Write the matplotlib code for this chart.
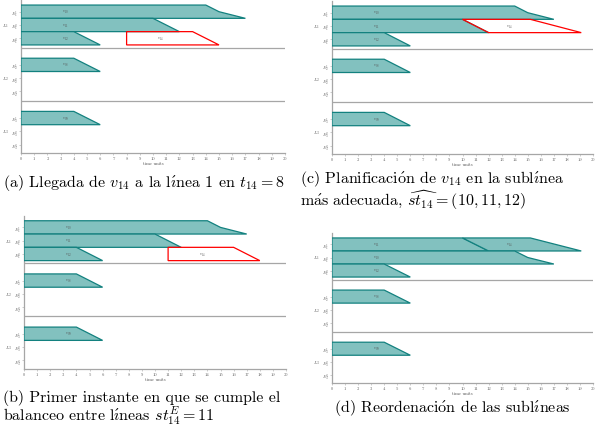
import matplotlib.pyplot as plt
import numpy as np

plt.rcParams['font.family'] = ['cmr10', 'DejaVu Serif']
plt.rcParams['mathtext.fontset'] = 'cm'
plt.rcParams['axes.formatter.use_mathtext'] = True

W, H = 597, 431

xticks = list(range(0, 21))
line_names = ['$L_1$', '$L_2$', '$L_3$']
subline_names = [['$E_1^1$', '$E_1^2$', '$E_1^3$'],
                 ['$E_2^1$', '$E_2^2$', '$E_2^3$'],
                 ['$E_3^1$', '$E_3^2$', '$E_3^3$']]

# profiles: x of the edge at fractions of the row height (0 = top, 1 = bottom)
long_fr = [0, 0.5, 1]
short_fr = [0, 1]
v10_end = [14, 15, 17]
v11_end = [10, 12]
v12_end = [4, 6]
v08_end = [4, 6]
v09_end = [4, 6]
zero = [0, 0]
v14_start_a, v14_end_a = [8, 8], [13, 15]
v14_start_b, v14_end_b = [11, 11], [16, 18]
v14_start_c, v14_end_c = [10, 12], [15.2, 19.1]

# (line, subline, start, end, fracs, label, new vehicle?)
bars_a = [(0, 0, zero, v10_end, long_fr, '$v_{10}$', False),
          (0, 1, zero, v11_end, short_fr, '$v_{11}$', False),
          (0, 2, zero, v12_end, short_fr, '$v_{12}$', False),
          (0, 2, v14_start_a, v14_end_a, short_fr, '$v_{14}$', True),
          (1, 0, zero, v08_end, short_fr, '$v_{08}$', False),
          (2, 0, zero, v09_end, short_fr, '$v_{09}$', False)]
bars_b = [(0, 0, zero, v10_end, long_fr, '$v_{10}$', False),
          (0, 1, zero, v11_end, short_fr, '$v_{11}$', False),
          (0, 2, zero, v12_end, short_fr, '$v_{12}$', False),
          (0, 2, v14_start_b, v14_end_b, short_fr, '$v_{14}$', True),
          (1, 0, zero, v08_end, short_fr, '$v_{08}$', False),
          (2, 0, zero, v09_end, short_fr, '$v_{09}$', False)]
bars_c = [(0, 0, zero, v10_end, long_fr, '$v_{10}$', False),
          (0, 1, zero, v11_end, short_fr, '$v_{11}$', False),
          (0, 1, v14_start_c, v14_end_c, short_fr, '$v_{14}$', True),
          (0, 2, zero, v12_end, short_fr, '$v_{12}$', False),
          (1, 0, zero, v08_end, short_fr, '$v_{08}$', False),
          (2, 0, zero, v09_end, short_fr, '$v_{09}$', False)]
bars_d = [(0, 0, zero, v11_end, short_fr, '$v_{11}$', False),
          (0, 0, v14_start_c, v14_end_c, short_fr, '$v_{14}$', False),
          (0, 1, zero, v10_end, long_fr, '$v_{10}$', False),
          (0, 2, zero, v12_end, short_fr, '$v_{12}$', False),
          (1, 0, zero, v08_end, short_fr, '$v_{08}$', False),
          (2, 0, zero, v09_end, short_fr, '$v_{09}$', False)]

TEAL_FILL = '#82c1bf'
TEAL_EDGE = '#13817f'
GRAY = '#a6a6a6'

# accented letters through mathtext (cmr10 has no glyphs for them)
I_ = r'$\mathrm{\acute{\imath}}$'
O_ = r'$\mathrm{\acute{o}}$'
A_ = r'$\mathrm{\acute{a}}$'


def draw_panel(left, right, top, bars, height=153):
    ax = fig.add_axes([left / W, 1 - (top + height) / H, (right - left) / W, height / H])
    for line, row, start, end, fr, label, new in bars:
        y0 = line * 4.0 + row
        pts = [(start[0], y0)] + [(e, y0 + f) for e, f in zip(end, fr)] + [(start[-1], y0 + 1)]
        if new:
            poly = plt.Polygon(pts, closed=True, facecolor='none', edgecolor='red', lw=0.9, zorder=4)
        else:
            poly = plt.Polygon(pts, closed=True, facecolor=TEAL_FILL, edgecolor=TEAL_EDGE, lw=0.9, zorder=3)
        ax.add_patch(poly)
        s = np.mean(start)
        lx = s + (3.4 if s == 0 else 2.6)
        ax.text(lx, y0 + 0.5, label, fontsize=3.2, color='#555555', ha='center', va='center', zorder=5)
    for line in range(2):
        ax.axhline(line * 4.0 + 3.2, color=GRAY, lw=0.9, zorder=1)
    ax.set_xlim(0, 20)
    ax.set_ylim(11.13, -0.38)
    ax.set_xticks(xticks)
    ax.set_xticklabels([str(t) for t in xticks], fontsize=3.3, color='#555555')
    yt = [l * 4.0 + r + 0.5 for l in range(3) for r in range(3)]
    ax.set_yticks(yt)
    ax.set_yticklabels([n for row in subline_names for n in row], fontsize=3.3, color='#777777')
    ax.tick_params(length=1.2, width=0.4, pad=1, colors=GRAY, labelcolor='#666666')
    for l, name in enumerate(line_names):
        ax.text(-0.045, l * 4.0 + 1.5, name, transform=ax.get_yaxis_transform(),
                fontsize=3.5, color='#555555', ha='right', va='center')
    ax.set_xlabel('time units', fontsize=3.3, color='#555555', labelpad=0.5)
    for sp in ['top', 'right']:
        ax.spines[sp].set_visible(False)
    for sp in ['left', 'bottom']:
        ax.spines[sp].set_color(GRAY)
        ax.spines[sp].set_linewidth(0.9)
    return ax


fig = plt.figure(figsize=(W / 100, H / 100), dpi=100)

draw_panel(21, 285, 1, bars_a)
draw_panel(332, 593, 2, bars_c)
draw_panel(24, 286, 216.7, bars_b)
draw_panel(332, 593, 234, bars_d, height=150)

cap = dict(fontsize=11.5, va='center')
fig.text(3 / W, 1 - 183 / H, r'(a) Llegada de $v_{14}$ a la l' + I_ + r'nea 1 en $t_{14} = 8$', ha='left', **cap)
fig.text(300 / W, 1 - 179 / H, r'(c) Planificaci' + O_ + r'n de $v_{14}$ en la subl' + I_ + 'nea', ha='left', **cap)
fig.text(300 / W, 1 - 200 / H, r'm' + A_ + r's adecuada, $\widehat{st_{14}} = (10, 11, 12)$', ha='left', **cap)
fig.text(3 / W, 1 - 398 / H, r'(b) Primer instante en que se cumple el', ha='left', **cap)
fig.text(3 / W, 1 - 416 / H, r'balanceo entre l' + I_ + r'neas $st_{14}^{E} = 11$', ha='left', **cap)
fig.text(452 / W, 1 - 408 / H, r'(d) Reordenaci' + O_ + r'n de las subl' + I_ + 'neas', ha='center', **cap)

fig.savefig('out.png', dpi=100)
